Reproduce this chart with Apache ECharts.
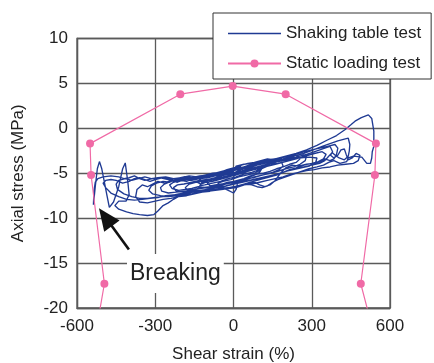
<!DOCTYPE html>
<html><head><meta charset="utf-8">
<script src="https://cdn.jsdelivr.net/npm/echarts@6/dist/echarts.min.js"></script>
<style>html,body{margin:0;padding:0;background:#fff}#c{width:434px;height:363px}</style>
</head><body><div id="c"></div>
<script>
const FONT = '"Liberation Sans", Arial, Helvetica, sans-serif';
const xTickInterval = 300;
const yTickInterval = 5;
const staticStrain = [-541, -495, -546, -550, -204, -3, 200, 546, 542, 488, 557];
const staticStress = [-25, -17.3, -5.2, -1.7, 3.8, 4.7, 3.8, -1.7, -5.2, -17.3, -25];

const shakeCycle1 = [[0,-5.3],[20,-5.1],[45,-4.9],[70,-4.6],[95,-4.5],[110,-4.4],[100,-4.9],[80,-5.2],[55,-5.5],[30,-5.7],[5,-5.9],[-20,-6.0],[-45,-6.2],[-70,-6.3],[-90,-6.4],[-100,-6.1],[-85,-5.8],[-60,-5.6],[-35,-5.4],[-10,-5.2],[15,-5.0]];
const shakeCycle2 = [[40,-4.8],[70,-4.5],[100,-4.3],[130,-4.2],[150,-4.0],[170,-3.9],[185,-3.8],[190,-4.2],[175,-4.6],[150,-4.9],[125,-5.1],[100,-5.3],[75,-5.5],[50,-5.6],[25,-5.8],[0,-6.0],[-30,-6.2],[-60,-6.4],[-90,-6.5],[-120,-6.6],[-150,-6.8],[-175,-6.9],[-185,-6.6],[-170,-6.2],[-145,-6.0],[-120,-5.9],[-95,-5.7],[-70,-5.5],[-45,-5.3],[-20,-5.1],[5,-4.9]];
const shakeCycle3 = [[30,-4.6],[60,-4.4],[90,-4.1],[120,-3.9],[150,-3.7],[180,-3.5],[210,-3.3],[240,-3.2],[265,-3.0],[280,-3.1],[275,-3.6],[255,-4.0],[230,-4.3],[200,-4.5],[170,-4.8],[140,-5.0],[110,-5.2],[80,-5.4],[50,-5.7],[20,-5.9],[-10,-6.1],[-40,-6.2],[-70,-6.4],[-100,-6.6],[-130,-6.7],[-160,-6.9],[-190,-7.0],[-220,-7.1],[-250,-7.2],[-275,-7.0],[-280,-6.6],[-265,-6.2],[-240,-5.9],[-210,-5.8],[-180,-5.7],[-150,-5.6],[-120,-5.5],[-90,-5.3],[-60,-5.1],[-30,-4.9],[0,-4.7]];
const shakeCycle4 = [[30,-4.5],[70,-4.2],[110,-3.9],[150,-3.6],[190,-3.4],[230,-3.1],[270,-2.8],[306,-2.4],[340,-2.0],[370,-1.7],[400,-1.4],[425,-1.2],[440,-1.1],[446,-1.8],[444,-2.5],[440,-3.1],[425,-3.5],[405,-3.3],[390,-3.0],[378,-2.7],[365,-3.1],[350,-3.6],[330,-3.9],[300,-4.1],[270,-4.3],[240,-4.5],[210,-4.7],[180,-5.0],[150,-5.2],[120,-5.4],[90,-5.6],[60,-5.8],[30,-6.0],[0,-6.2],[-30,-6.4],[-60,-6.5],[-90,-6.7],[-120,-6.9],[-150,-7.0],[-180,-7.2],[-210,-7.3],[-240,-7.5],[-270,-7.6],[-300,-7.7],[-330,-7.8],[-360,-7.8],[-390,-7.6],[-420,-7.3],[-445,-6.8],[-450,-6.2],[-440,-5.8],[-415,-5.6],[-390,-5.8],[-365,-5.6],[-340,-5.4],[-315,-5.6],[-290,-5.5],[-260,-5.4],[-230,-5.6],[-200,-5.5],[-170,-5.3],[-140,-5.4],[-110,-5.2],[-80,-5.0],[-50,-4.9],[-20,-4.7],[10,-4.5]];
const shakeCycle5 = [[40,-4.3],[80,-4.0],[120,-3.7],[160,-3.4],[200,-3.1],[240,-2.8],[280,-2.4],[320,-1.9],[360,-1.3],[395,-0.8],[427,-0.15],[450,0.4],[466,0.8],[490,1.2],[517,1.5],[530,1.1],[538,-0.3],[538,-1.2],[538,-2.0],[532,-2.6],[530,-3.3],[525,-3.9],[511,-3.9],[492,-3.2],[460,-3.1],[440,-3.3],[434,-3.7],[408,-3.9],[385,-3.6],[365,-3.8],[345,-4.1],[320,-4.3],[290,-4.5],[260,-4.8],[230,-5.1],[200,-5.4],[170,-5.7],[150,-6.0],[130,-6.4],[110,-6.6],[90,-6.5],[70,-6.3],[50,-6.2],[30,-6.4],[10,-6.6],[-20,-6.7],[-50,-6.8],[-80,-6.9],[-120,-7.0],[-160,-7.1],[-200,-7.4],[-230,-7.9],[-250,-8.3],[-270,-8.6],[-290,-9.2],[-305,-9.6],[-330,-9.7],[-360,-9.6],[-385,-9.5],[-410,-9.3],[-440,-9.0],[-455,-8.6],[-440,-8.1],[-412,-8.1],[-400,-7.4],[-405,-6.0],[-415,-3.85],[-425,-4.5],[-440,-6.5],[-460,-8.2],[-476,-8.8],[-485,-7.5],[-495,-6.0],[-505,-4.5],[-514,-3.7],[-522,-4.5],[-530,-6.5],[-537,-8.5],[-535,-7.0],[-530,-6.0],[-520,-5.6],[-500,-5.4],[-470,-5.3],[-440,-5.4],[-420,-5.6],[-400,-5.5],[-380,-5.3],[-360,-5.6],[-340,-5.8],[-310,-5.6],[-280,-5.5],[-250,-5.7],[-220,-5.6],[-190,-5.4],[-160,-5.5],[-130,-5.3],[-100,-5.2],[-70,-5.0],[-40,-4.9],[-10,-4.7],[20,-4.5]];
const shakeCycle6 = [[20,-4.4],[60,-4.1],[100,-3.8],[140,-3.5],[180,-3.3],[220,-3.0],[260,-2.7],[300,-2.4],[330,-2.2],[360,-2.0],[389,-1.8],[400,-2.2],[395,-2.9],[385,-3.4],[370,-3.6],[350,-3.4],[335,-3.7],[310,-3.9],[280,-4.0],[250,-4.2],[225,-4.1],[200,-4.4],[180,-5.0],[160,-5.8],[140,-6.3],[120,-6.5],[100,-6.3],[80,-6.0],[60,-6.1],[40,-6.3],[20,-6.4],[0,-6.5],[-30,-6.7],[-60,-6.8],[-90,-7.0],[-120,-7.1],[-150,-7.3],[-180,-7.5],[-210,-7.6],[-240,-7.8],[-270,-7.9],[-300,-8.1],[-330,-8.3],[-360,-8.2],[-375,-7.6],[-370,-6.8],[-350,-6.3],[-330,-6.5],[-310,-6.2],[-290,-5.9],[-265,-6.1],[-240,-5.8],[-215,-6.0],[-190,-5.7],[-160,-5.8],[-130,-5.6],[-100,-5.5],[-70,-5.3],[-40,-5.2],[-10,-5.0],[20,-4.9]];
const shakeCycle7 = [[50,-4.6],[90,-4.3],[130,-4.0],[170,-3.7],[210,-3.5],[250,-3.3],[290,-3.2],[320,-3.3],[315,-3.8],[290,-4.2],[260,-4.4],[230,-4.6],[200,-4.8],[170,-5.1],[140,-5.3],[110,-5.5],[80,-5.7],[50,-5.9],[20,-6.1],[-10,-6.3],[-40,-6.5],[-70,-6.6],[-100,-6.8],[-130,-6.9],[-160,-7.0],[-190,-7.1],[-220,-7.0],[-230,-6.6],[-215,-6.3],[-190,-6.2],[-160,-6.0],[-130,-5.8],[-100,-5.7],[-70,-5.5],[-40,-5.4],[-10,-5.2],[20,-5.0]];
const shakeCycle8 = [[40,-4.7],[80,-4.4],[120,-4.1],[160,-3.8],[200,-3.5],[240,-3.2],[280,-2.9],[320,-2.5],[350,-2.2],[370,-2.0],[380,-2.6],[372,-3.0],[385,-3.3],[400,-3.0],[412,-2.4],[425,-2.3],[432,-2.9],[440,-3.5],[455,-3.3],[470,-2.8],[485,-3.0],[478,-3.6],[460,-3.9],[430,-4.0],[400,-4.1],[370,-4.3],[340,-4.4],[310,-4.6],[280,-4.7],[250,-4.9],[220,-5.1],[190,-5.4],[160,-5.6],[130,-5.8],[100,-6.0],[70,-6.2],[40,-6.3],[10,-6.5],[-20,-6.6],[-50,-6.7],[-80,-6.8],[-110,-6.9],[-140,-7.0],[-170,-7.2],[-200,-7.3],[-230,-7.4],[-260,-7.5],[-290,-7.7],[-320,-7.8],[-350,-7.9],[-380,-8.0],[-410,-7.9],[-440,-7.6],[-470,-7.2],[-490,-6.6],[-500,-6.1],[-490,-5.8],[-470,-5.7],[-450,-5.8],[-425,-6.1],[-400,-5.9],[-380,-5.6],[-360,-5.5],[-340,-5.7],[-320,-5.9],[-300,-5.7],[-275,-5.5],[-250,-5.6],[-225,-5.8],[-200,-5.6],[-175,-5.5],[-150,-5.6],[-120,-5.4],[-90,-5.3],[-60,-5.2],[-30,-5.0],[0,-4.8]];
const shakeCycle9 = [[30,-4.4],[60,-4.2],[90,-4.0],[120,-3.9],[150,-3.7],[130,-4.2],[100,-4.6],[70,-4.9],[40,-5.1],[10,-5.4],[-20,-5.6],[-50,-5.9],[-80,-6.1],[-110,-6.3],[-130,-6.4],[-120,-6.0],[-95,-5.8],[-65,-5.6],[-35,-5.4],[-5,-5.1],[25,-4.8],[55,-4.6],[85,-4.4],[100,-4.7],[80,-5.0],[50,-5.2],[20,-5.4],[-10,-5.7],[-40,-5.9],[-60,-6.1],[-50,-6.5],[-20,-6.9],[0,-7.2],[10,-6.8],[15,-6.2]];
const shakeCycle10 = [[10,-4.2],[40,-4.0],[70,-3.9],[100,-3.7],[130,-3.5],[160,-3.4],[190,-3.2],[220,-3.1],[245,-3.0],[255,-3.4],[240,-3.8],[215,-4.0],[190,-4.3],[165,-4.5],[140,-4.8],[115,-5.0],[90,-5.1],[65,-5.3],[40,-5.6],[15,-5.8],[-10,-6.0],[-35,-6.2],[-60,-6.3],[-85,-6.5],[-110,-6.6],[-135,-6.5],[-160,-6.7],[-185,-6.8],[-210,-6.9],[-235,-6.7],[-245,-6.3],[-230,-6.0],[-205,-5.8],[-180,-5.9],[-155,-5.6],[-130,-5.4],[-105,-5.5],[-80,-5.2],[-55,-5.0],[-30,-4.8],[-5,-4.6],[20,-4.3]];
const shakeCycle11 = [[30,-4.1],[55,-3.9],[80,-3.8],[105,-3.6],[130,-3.4],[150,-3.5],[140,-3.9],[120,-4.2],[95,-4.4],[70,-4.6],[45,-4.9],[20,-5.1],[-5,-5.3],[-30,-5.5],[-55,-5.7],[-80,-5.9],[-105,-6.0],[-125,-6.2],[-140,-6.0],[-125,-5.6],[-100,-5.4],[-75,-5.1],[-50,-4.9],[-25,-4.6],[0,-4.4],[25,-4.2]];
const shakeCycle12 = [[40,-4.9],[80,-4.6],[120,-4.3],[160,-4.0],[200,-3.7],[240,-3.4],[275,-3.1],[310,-2.8],[340,-2.6],[355,-2.9],[345,-3.4],[325,-3.7],[300,-3.9],[270,-4.1],[240,-4.4],[215,-4.6],[190,-4.9],[165,-5.2],[140,-5.4],[115,-5.6],[90,-5.8],[65,-6.0],[40,-6.2],[15,-6.4],[-10,-6.6],[-40,-6.8],[-70,-6.9],[-100,-7.0],[-130,-7.1],[-160,-7.3],[-190,-7.4],[-220,-7.5],[-250,-7.6],[-280,-7.5],[-310,-7.3],[-325,-6.9],[-315,-6.4],[-295,-6.1],[-270,-5.9],[-245,-6.0],[-220,-5.7],[-195,-5.6],[-170,-5.7],[-145,-5.5],[-120,-5.3],[-95,-5.2],[-70,-5.0],[-45,-4.8],[-20,-4.6],[5,-4.4]];

const shakeData = [].concat(shakeCycle1, shakeCycle2, shakeCycle3, shakeCycle4, shakeCycle5, shakeCycle6,
  shakeCycle7, shakeCycle8, shakeCycle10, shakeCycle11, shakeCycle12, shakeCycle9);
const staticData = staticStrain.map((x, i) => [x, staticStress[i]]);

const BLUE = '#1f3a93';
const PINK = '#f06aa6';
const GRIDC = '#5a5a5a';

const chart = echarts.init(document.getElementById('c'), null, {renderer: 'canvas'});
chart.setOption({
  animation: false,
  backgroundColor: '#fff',
  textStyle: {fontFamily: FONT},
  grid: {left: 77, right: 44, top: 38.5, bottom: 55, containLabel: false, outerBoundsMode: 'none',
         show: true, borderColor: GRIDC, borderWidth: 1.3, backgroundColor: 'transparent'},
  legend: {
    orient: 'vertical', left: 213, top: 13,
    backgroundColor: '#fff', borderColor: '#333', borderWidth: 1,
    padding: [12, 10, 7, 14], itemGap: 13, itemWidth: 53, itemHeight: 10,
    textStyle: {fontSize: 17, color: '#222', fontFamily: FONT},
    data: [
      {name: 'Shaking table test', itemStyle: {color: 'rgba(0,0,0,0)', borderWidth: 0}, lineStyle: {color: BLUE, width: 1.5}},
      {name: 'Static loading test'}
    ]
  },
  xAxis: {
    type: 'value', min: -600, max: 600, interval: xTickInterval,
    name: 'Shear strain (%)', nameLocation: 'middle', nameGap: 38,
    nameTextStyle: {fontSize: 17, color: '#222', fontFamily: FONT},
    axisLine: {show: true, onZero: false, lineStyle: {color: GRIDC, width: 1.3}},
    axisTick: {show: false},
    axisLabel: {fontSize: 17, color: '#222', margin: 10, fontFamily: FONT},
    splitLine: {show: true, lineStyle: {color: GRIDC, width: 1.3}}
  },
  yAxis: {
    type: 'value', min: -20, max: 10, interval: yTickInterval,
    name: 'Axial stress (MPa)', nameLocation: 'middle', nameGap: 50,
    nameTextStyle: {fontSize: 17, color: '#222', fontFamily: FONT},
    axisLine: {show: true, onZero: false, lineStyle: {color: GRIDC, width: 1.3}},
    axisTick: {show: false},
    axisLabel: {fontSize: 17, color: '#222', margin: 9, fontFamily: FONT},
    splitLine: {show: true, lineStyle: {color: GRIDC, width: 1.3}}
  },
  series: [
    {
      name: 'Shaking table test', type: 'line', data: shakeData,
      showSymbol: false, symbol: 'none', clip: true,
      lineStyle: {color: BLUE, width: 1.35}, itemStyle: {color: BLUE},
      z: 2,
      markLine: {
        silent: true, animation: false,
        symbol: ['none', 'triangle'], symbolSize: [19, 22],
        label: {show: false},
        lineStyle: {color: '#111', width: 2.6, type: 'solid'},
        itemStyle: {color: '#111'},
        data: [[{coord: [-401, -13.5]}, {coord: [-491, -9.9]}]]
      }
    },
    {
      name: 'Static loading test', type: 'line', data: staticData,
      symbol: 'circle', symbolSize: 8, showSymbol: true, clip: true,
      lineStyle: {color: PINK, width: 1.2}, itemStyle: {color: PINK},
      z: 3
    }
  ],
  graphic: [{
    type: 'text', left: 127, top: 254, z: 10,
    style: {text: 'Breaking', fontSize: 23, fontFamily: FONT, fill: '#222',
            backgroundColor: '#fff', padding: [8, 3, 8, 3]}
  }]
});
</script></body></html>
